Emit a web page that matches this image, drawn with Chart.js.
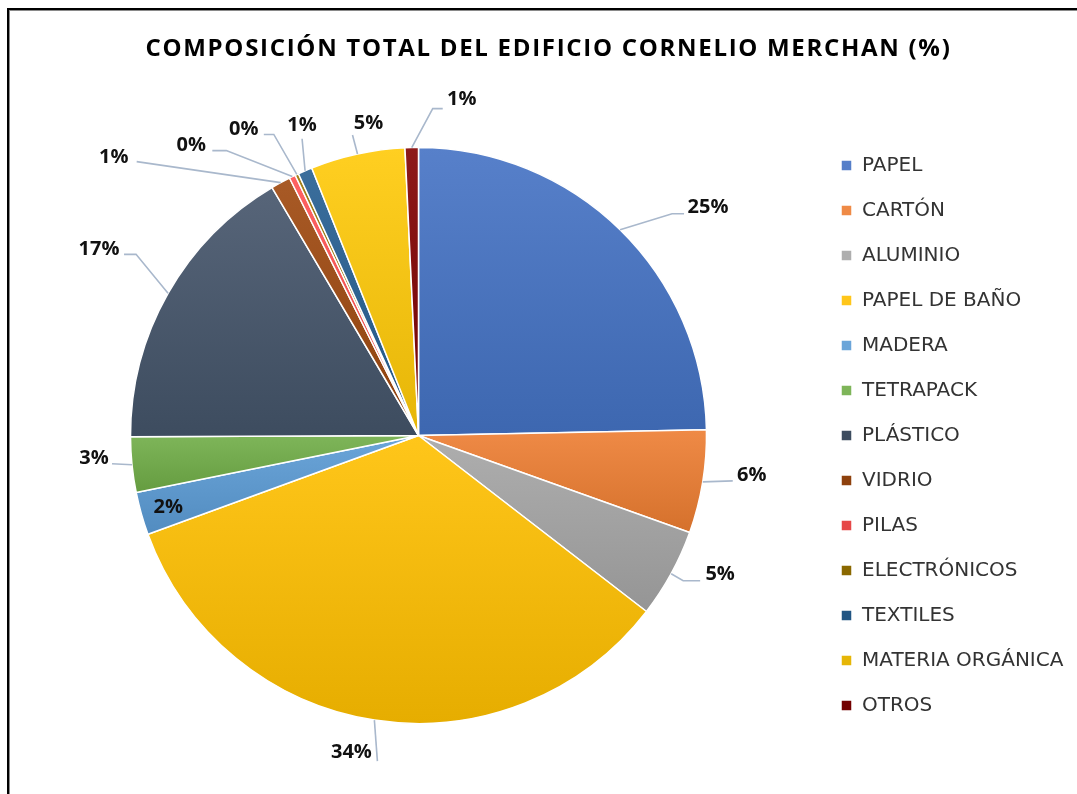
<!DOCTYPE html>
<html>
<head>
<meta charset="utf-8">
<script src="https://cdn.jsdelivr.net/npm/chart.js@4.4.0/dist/chart.umd.min.js"></script>
<style>
  html, body { margin: 0; padding: 0; background: #fff; }
  #wrap { position: relative; width: 1077px; height: 794px; overflow: hidden; }
  #frame { position: absolute; left: 7px; top: 8px; width: 1200px; height: 900px;
           border-left: 2px solid #000; border-top: 2px solid #000; box-shadow: inset 1px 1px 0 #8a8a8a; }
  #title { position: absolute; left: 0; width: 1097px; top: 30px; line-height: 36px; text-align: center;
           font: bold 24px 'Open Sans', sans-serif; letter-spacing: 1.7px; color: #000; }
  canvas { position: absolute; left: 0; top: 0; }
</style>
</head>
<body>
<div id="wrap">
  <div id="frame"></div>
  <canvas id="pie" width="1077" height="794"></canvas>
  <div id="title">COMPOSICIÓN TOTAL DEL EDIFICIO CORNELIO MERCHAN (%)</div>
</div>
<script>
// datos (porcentaje de cada material)
const categories = ['PAPEL', 'CARTÓN', 'ALUMINIO', 'PAPEL DE BAÑO', 'MADERA', 'TETRAPACK', 'PLÁSTICO',
                    'VIDRIO', 'PILAS', 'ELECTRÓNICOS', 'TEXTILES', 'MATERIA ORGÁNICA', 'OTROS'];
const shares = [24.7, 5.8, 5.0, 34.0, 2.4, 3.1, 16.6, 1.1, 0.35, 0.2, 0.8, 5.3, 0.75];

const baseColors = ['#4472C4', '#ED7D31', '#A5A5A5', '#FFC000', '#5B9BD5', '#70AD47', '#44546A',
                    '#9E480E', '#FF5050', '#997300', '#255E91', '#FFCA08', '#800000'];

// posición de cada etiqueta y su línea guía, relativa al punto medio del borde del sector
const labelLayout = [
  { text: [88, -22], line: [[52, -16], [64, -16]] },
  { text: [49, -7], line: [[30, -1]] },
  { text: [49, 1], line: [[12, 7], [29, 7]] },
  { text: [-23, 32], line: [[3, 41]] },
  { text: [27, -6], line: [] },
  { text: [-38, -7], line: [[-20, -1]] },
  { text: [-69, -44], line: [[-32, -39], [-44, -39]] },
  { text: [-167, -25], line: [[-144, -21]] },
  { text: [-101, -31], line: [[-66, -26], [-80, -26]] },
  { text: [-53, -45], line: [[-23, -40], [-33, -40]] },
  { text: [-3, -45], line: [[-3, -32]] },
  { text: [11, -31], line: [[-5, -19]] },
  { text: [50, -48], line: [[21, -39], [31, -39]] }
];

const PIE_RADIUS = 288;
const PIE_CX = 418.5;
const LEGEND_FONT = 20;
const LEGEND_FAMILY = "'DejaVu Sans', sans-serif";
const LEGEND_PAD = 25;
const LEGEND_BOX = 11;
const LEGEND_LEFT = 816;   // borde izquierdo de la leyenda
const CANVAS_W = 1077;

function mix(hex, target, t) {
  const n = parseInt(hex.slice(1), 16);
  const r = (n >> 16) & 255, g = (n >> 8) & 255, b = n & 255;
  const f = c => Math.round(c + (target - c) * t);
  return `rgb(${f(r)}, ${f(g)}, ${f(b)})`;
}

// extensión vertical de cada sector (para el degradado de cada uno, como en Excel)
function sliceExtent(i, cy) {
  const total = shares.reduce((a, b) => a + b, 0);
  let cum = 0;
  for (let k = 0; k < i; k++) cum += shares[k];
  const a0 = -Math.PI / 2 + 2 * Math.PI * cum / total;
  const a1 = a0 + 2 * Math.PI * shares[i] / total;
  const ys = [cy, cy + PIE_RADIUS * Math.sin(a0), cy + PIE_RADIUS * Math.sin(a1)];
  [-Math.PI / 2, Math.PI / 2, 3 * Math.PI / 2].forEach(a => {
    if (a > a0 && a < a1) ys.push(cy + PIE_RADIUS * Math.sin(a));
  });
  return [Math.min(...ys), Math.max(...ys)];
}

function sliceFill(context) {
  const chart = context.chart;
  const area = chart.chartArea;
  const i = context.dataIndex;
  const base = baseColors[i];
  if (!area || i === undefined) return base;
  const cy = (area.top + area.bottom) / 2;
  const [y0, y1] = sliceExtent(i, cy);
  const g = chart.ctx.createLinearGradient(0, y0, 0, Math.max(y1, y0 + 1));
  g.addColorStop(0, mix(base, 255, 0.1));
  g.addColorStop(1, mix(base, 0, 0.1));
  return g;
}

const leaderLabels = {
  id: 'leaderLabels',
  afterDatasetsDraw(chart) {
    const ctx = chart.ctx;
    const meta = chart.getDatasetMeta(0);
    const total = shares.reduce((a, b) => a + b, 0);
    ctx.save();
    meta.data.forEach((arc, i) => {
      const p = arc.getProps(['x', 'y', 'startAngle', 'endAngle', 'outerRadius'], true);
      const mid = (p.startAngle + p.endAngle) / 2;
      const ax = p.x + Math.cos(mid) * p.outerRadius;
      const ay = p.y + Math.sin(mid) * p.outerRadius;
      const lay = labelLayout[i];
      if (lay.line.length) {
        ctx.beginPath();
        ctx.moveTo(ax, ay);
        lay.line.forEach(pt => ctx.lineTo(ax + pt[0], ay + pt[1]));
        ctx.strokeStyle = '#A9B8CC';
        ctx.lineWidth = 1.6;
        ctx.stroke();
      }
      ctx.font = "bold 20px 'Open Sans', sans-serif";
      ctx.fillStyle = '#111';
      ctx.textAlign = 'center';
      ctx.textBaseline = 'middle';
      ctx.fillText(Math.round(shares[i] / total * 100) + '%', ax + lay.text[0], ay + lay.text[1]);
    });
    ctx.restore();
  }
};

const padLeft = 2 * PIE_CX - LEGEND_LEFT;

const chart = new Chart(document.getElementById('pie'), {
  type: 'pie',
  data: {
    labels: categories,
    datasets: [{
      data: shares,
      backgroundColor: sliceFill,
      borderColor: '#ffffff',
      borderWidth: 1.5
    }]
  },
  options: {
    responsive: false,
    animation: false,
    radius: PIE_RADIUS,
    layout: { padding: { left: padLeft, right: 10, top: 84, bottom: 7 } },
    plugins: {
      title: { display: false },
      tooltip: { enabled: false },
      legend: {
        position: 'right',
        fullSize: false,
        labels: {
          boxWidth: LEGEND_BOX,
          boxHeight: LEGEND_BOX,
          padding: LEGEND_PAD,
          color: '#333',
          font: { family: LEGEND_FAMILY, size: LEGEND_FONT }
        }
      }
    }
  },
  plugins: [leaderLabels]
});

// ajustar el margen derecho para que la leyenda empiece donde toca
const shift = LEGEND_LEFT - chart.legend.left;
if (Math.abs(shift) > 0.5) {
  chart.options.layout.padding.right = Math.max(0, 10 - shift);
  chart.update();
}
</script>
</body>
</html>
